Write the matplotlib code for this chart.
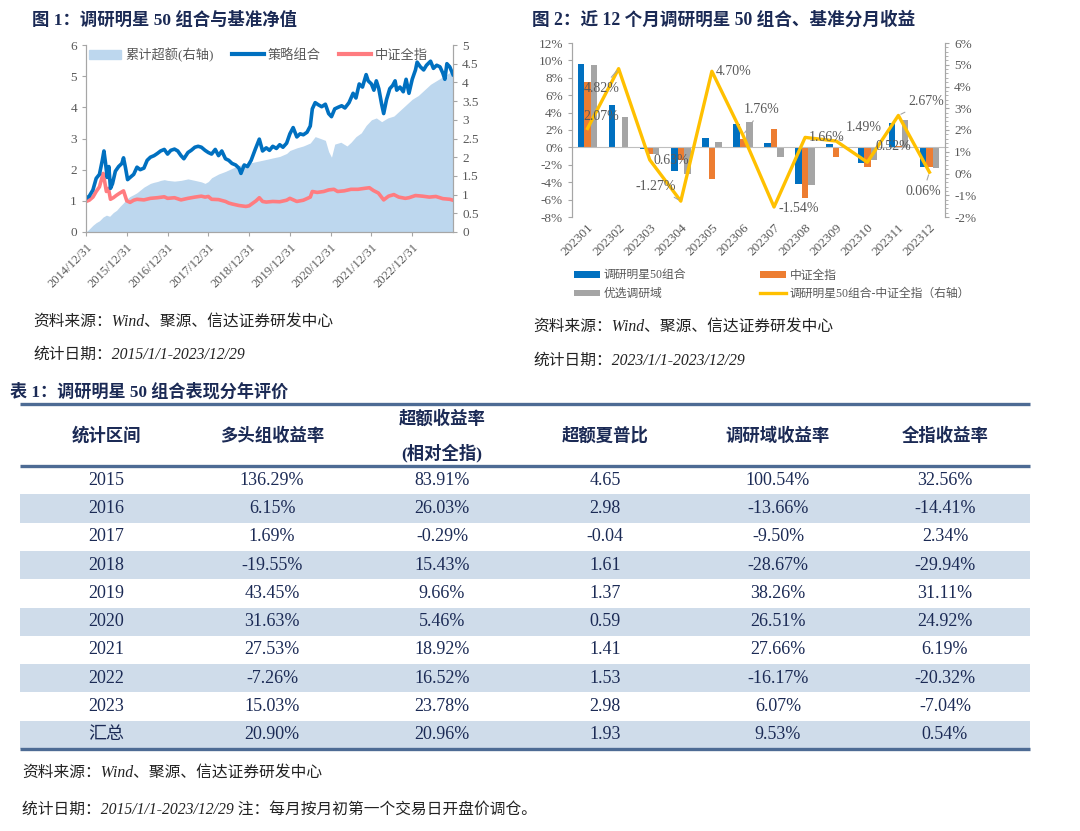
import matplotlib
matplotlib.use('Agg')
import matplotlib.pyplot as plt
from matplotlib.patches import Patch, Rectangle
from matplotlib.lines import Line2D
from matplotlib.ticker import AutoMinorLocator, PercentFormatter, MultipleLocator

plt.rcParams['font.family'] = ['Liberation Serif', 'Noto Sans CJK SC', 'DejaVu Sans']
plt.rcParams['axes.unicode_minus'] = False

# ---------------- data: figure 1 (net value, decimal years) ----------------
strat_t = [2015.00, 2015.08, 2015.17, 2015.25, 2015.33, 2015.40, 2015.44, 2015.48, 2015.52, 2015.56,
           2015.60, 2015.65, 2015.72, 2015.80, 2015.88, 2015.92, 2015.97, 2016.02, 2016.08, 2016.17,
           2016.25, 2016.33, 2016.42, 2016.50, 2016.58, 2016.67, 2016.75, 2016.83, 2016.92, 2017.00,
           2017.08, 2017.17, 2017.25, 2017.33, 2017.40, 2017.50, 2017.58, 2017.67, 2017.75, 2017.83,
           2017.92, 2018.00, 2018.08, 2018.17, 2018.25, 2018.33, 2018.42, 2018.50, 2018.58, 2018.67,
           2018.75, 2018.80, 2018.88, 2018.96, 2019.05, 2019.15, 2019.25, 2019.33, 2019.42, 2019.50,
           2019.58, 2019.67, 2019.75, 2019.83, 2019.92, 2020.00, 2020.08, 2020.17, 2020.25, 2020.33,
           2020.42, 2020.50, 2020.55, 2020.62, 2020.70, 2020.78, 2020.87, 2020.95, 2021.02, 2021.10,
           2021.18, 2021.27, 2021.35, 2021.45, 2021.55, 2021.62, 2021.70, 2021.78, 2021.87, 2021.92,
           2022.00, 2022.06, 2022.12, 2022.18, 2022.25, 2022.30, 2022.37, 2022.45, 2022.52, 2022.58,
           2022.62, 2022.70, 2022.78, 2022.85, 2022.92, 2023.00, 2023.08, 2023.12, 2023.20, 2023.28,
           2023.35, 2023.45, 2023.52, 2023.60, 2023.68, 2023.75, 2023.80, 2023.85, 2023.92, 2024.00]
strat_v = [1.08, 1.15, 1.35, 1.72, 1.85, 2.30, 2.60, 2.20, 1.75, 2.10,
           1.40, 1.55, 1.95, 2.10, 2.20, 2.38, 2.05, 1.68, 1.75, 1.85,
           2.08, 2.00, 2.05, 2.30, 2.40, 2.45, 2.52, 2.60, 2.65, 2.50,
           2.62, 2.66, 2.60, 2.45, 2.35, 2.55, 2.62, 2.72, 2.75, 2.72,
           2.62, 2.55, 2.50, 2.65, 2.45, 2.60, 2.35, 2.30, 2.20, 2.15,
           2.05, 1.88, 2.15, 2.10, 2.30, 2.65, 2.98, 2.60, 2.70, 2.62,
           2.75, 2.68, 2.80, 2.72, 2.85, 3.15, 3.35, 3.05, 3.15, 3.12,
           3.20, 3.40, 3.95, 4.15, 4.08, 4.02, 4.10, 3.80, 3.70, 3.95,
           4.00, 4.05, 3.98, 4.15, 4.45, 4.30, 4.75, 4.65, 5.05, 4.85,
           4.75, 4.55, 4.85, 4.60, 4.10, 3.80, 4.25, 4.60, 4.70, 4.85,
           4.55, 4.65, 4.50, 4.90, 4.45, 4.90, 5.20, 5.45, 5.30, 5.20,
           5.35, 5.48, 5.25, 5.35, 5.30, 5.10, 4.90, 5.40, 5.30, 5.05]

csi_t = [2015.00, 2015.08, 2015.17, 2015.25, 2015.33, 2015.42, 2015.46, 2015.50, 2015.55, 2015.60,
         2015.67, 2015.75, 2015.83, 2015.92, 2016.00, 2016.08, 2016.17, 2016.25, 2016.42, 2016.58,
         2016.75, 2016.92, 2017.00, 2017.17, 2017.33, 2017.50, 2017.67, 2017.83, 2017.92, 2018.00,
         2018.08, 2018.25, 2018.42, 2018.50, 2018.58, 2018.75, 2018.92, 2019.00, 2019.17, 2019.25,
         2019.33, 2019.42, 2019.58, 2019.75, 2019.92, 2020.00, 2020.17, 2020.33, 2020.50, 2020.55,
         2020.67, 2020.83, 2020.95, 2021.08, 2021.17, 2021.33, 2021.50, 2021.67, 2021.83, 2021.95,
         2022.05, 2022.17, 2022.30, 2022.42, 2022.55, 2022.67, 2022.83, 2022.92, 2023.08, 2023.25,
         2023.42, 2023.58, 2023.75, 2023.92, 2024.00]
csi_v = [0.98, 1.02, 1.12, 1.30, 1.45, 1.88, 1.60, 1.30, 1.40, 1.05,
         1.10, 1.18, 1.25, 1.32, 1.00, 0.95, 1.02, 1.05, 1.03, 1.08,
         1.10, 1.13, 1.08, 1.10, 1.03, 1.08, 1.12, 1.15, 1.12, 1.14,
         1.05, 1.04, 0.98, 0.93, 0.90, 0.85, 0.82, 0.84, 1.00, 1.10,
         0.98, 0.96, 0.98, 0.97, 1.02, 1.08, 0.98, 1.02, 1.12, 1.30,
         1.27, 1.30, 1.35, 1.37, 1.30, 1.32, 1.37, 1.37, 1.40, 1.42,
         1.33, 1.25, 1.03, 1.15, 1.20, 1.12, 1.08, 1.10, 1.17, 1.15,
         1.12, 1.14, 1.07, 1.05, 1.02]

excess_t = [2015.00, 2015.08, 2015.17, 2015.25, 2015.33, 2015.42, 2015.50, 2015.58, 2015.67, 2015.75,
            2015.83, 2015.92, 2016.00, 2016.08, 2016.17, 2016.25, 2016.33, 2016.42, 2016.50, 2016.58,
            2016.67, 2016.75, 2016.83, 2016.92, 2017.00, 2017.17, 2017.33, 2017.50, 2017.67, 2017.83,
            2017.92, 2018.00, 2018.08, 2018.25, 2018.42, 2018.58, 2018.75, 2018.92, 2019.08, 2019.25,
            2019.42, 2019.58, 2019.75, 2019.92, 2020.00, 2020.17, 2020.33, 2020.50, 2020.62, 2020.75,
            2020.87, 2020.95, 2021.02, 2021.10, 2021.25, 2021.40, 2021.50, 2021.62, 2021.75, 2021.87,
            2022.00, 2022.12, 2022.25, 2022.40, 2022.55, 2022.70, 2022.85, 2023.00, 2023.15, 2023.30,
            2023.45, 2023.60, 2023.75, 2023.90, 2024.00]
excess_v = [0.00, 0.08, 0.18, 0.25, 0.30, 0.40, 0.45, 0.42, 0.52, 0.58,
            0.68, 0.78, 0.88, 0.95, 1.00, 1.05, 1.12, 1.20, 1.25, 1.30,
            1.33, 1.35, 1.38, 1.40, 1.38, 1.36, 1.38, 1.42, 1.38, 1.34,
            1.30, 1.35, 1.45, 1.55, 1.62, 1.70, 1.78, 1.82, 1.86, 1.90,
            1.94, 1.98, 2.02, 2.10, 2.18, 2.25, 2.30, 2.38, 2.55, 2.50,
            2.45, 2.15, 2.00, 2.35, 2.40, 2.30, 2.40, 2.55, 2.65, 2.85,
            3.00, 3.05, 2.95, 3.05, 3.10, 3.25, 3.40, 3.55, 3.65, 3.80,
            3.95, 4.05, 4.15, 4.25, 4.30]

year_ticks = [2015, 2016, 2017, 2018, 2019, 2020, 2021, 2022, 2023]
year_labels = ['2014/12/31', '2015/12/31', '2016/12/31', '2017/12/31', '2018/12/31',
               '2019/12/31', '2020/12/31', '2021/12/31', '2022/12/31']

# ---------------- data: figure 2 (monthly returns, %) ----------------
months = ['202301', '202302', '202303', '202304', '202305', '202306',
          '202307', '202308', '202309', '202310', '202311', '202312']
ret_strat = [9.60, 4.88, -0.14, -2.69, 1.03, 2.73, 0.52, -4.16, 0.36, -1.79, 2.85, -2.23]
ret_csi = [7.53, 0.06, -0.77, -1.42, -3.67, 0.97, 2.06, -5.82, -1.13, -2.31, 0.18, -2.29]
ret_pool = [9.50, 3.45, -0.77, -3.08, 0.62, 2.96, -1.08, -4.35, -0.05, -1.46, 3.12, -2.42]
ret_diff = [2.07, 4.82, 0.63, -1.27, 4.70, 1.76, -1.54, 1.66, 1.49, 0.52, 2.67, 0.06]

# ---------------- data: table 1 ----------------
tab_header = ['统计区间', '多头组收益率', '超额收益率\n\n(相对全指)', '超额夏普比', '调研域收益率', '全指收益率']
tab_rows = [
    ['2015', '136.29%', '83.91%', '4.65', '100.54%', '32.56%'],
    ['2016', '6.15%', '26.03%', '2.98', '-13.66%', '-14.41%'],
    ['2017', '1.69%', '-0.29%', '-0.04', '-9.50%', '2.34%'],
    ['2018', '-19.55%', '15.43%', '1.61', '-28.67%', '-29.94%'],
    ['2019', '43.45%', '9.66%', '1.37', '38.26%', '31.11%'],
    ['2020', '31.63%', '5.46%', '0.59', '26.51%', '24.92%'],
    ['2021', '27.53%', '18.92%', '1.41', '27.66%', '6.19%'],
    ['2022', '-7.26%', '16.52%', '1.53', '-16.17%', '-20.32%'],
    ['2023', '15.03%', '23.78%', '2.98', '6.07%', '-7.04%'],
    ['汇总', '20.90%', '20.96%', '1.93', '9.53%', '0.54%'],
]

NAVY = '#1b2a55'
GRAY_TXT = '#595959'
AX_GRAY = '#a6a6a6'
NOTE = '#222222'
W, H = 1080, 831

fig = plt.figure(figsize=(W / 100, H / 100), dpi=100)

# pixel-space background axes for titles, notes and the table
ax0 = fig.add_axes([0, 0, 1, 1])
ax0.set_xlim(0, W)
ax0.set_ylim(H, 0)
ax0.axis('off')

ax0.text(32, 20, '图 1：调研明星 50 组合与基准净值', fontsize=12.5, fontweight='bold', color=NAVY, va='center')
ax0.text(532, 20, '图 2：近 12 个月调研明星 50 组合、基准分月收益', fontsize=12.7, fontweight='bold', color=NAVY, va='center')
ax0.text(33, 322, '资料来源：Wind、聚源、信达证券研发中心', fontsize=11.3, style='italic', color=NOTE, va='center')
ax0.text(33, 355, '统计日期：2015/1/1-2023/12/29', fontsize=11.3, style='italic', color=NOTE, va='center')
ax0.text(533, 327, '资料来源：Wind、聚源、信达证券研发中心', fontsize=11.3, style='italic', color=NOTE, va='center')
ax0.text(533, 361, '统计日期：2023/1/1-2023/12/29', fontsize=11.3, style='italic', color=NOTE, va='center')
ax0.text(10, 392, '表 1：调研明星 50 组合表现分年评价', fontsize=12.3, fontweight='bold', color=NAVY, va='center')

# table
col_x = [106, 272, 442, 605, 778, 945]
tab_left, tab_right = 20, 1030
head_top, head_bot = 404, 466
row_h = 28.3
line_col = '#4d6b94'
for i, row in enumerate(tab_rows):
    y0 = head_bot + i * row_h
    if i % 2 == 1:
        ax0.add_patch(Rectangle((tab_left, y0), tab_right - tab_left, row_h, color='#cfdcea', lw=0))
    for cx, val in zip(col_x, row):
        ax0.text(cx, y0 + row_h / 2, val, ha='center', va='center', fontsize=13, color=NAVY)
for cx, h in zip(col_x, tab_header):
    ax0.text(cx, (head_top + head_bot) / 2 + 1, h, ha='center', va='center', fontsize=12.5,
             fontweight='bold', color=NAVY, linespacing=1.0)
tab_bot = head_bot + len(tab_rows) * row_h
for yy in (head_top, head_bot, tab_bot):
    ax0.plot([tab_left, tab_right], [yy, yy], color=line_col, lw=2.4, solid_capstyle='butt')

ax0.text(22, 773, '资料来源：Wind、聚源、信达证券研发中心', fontsize=11.3, style='italic', color=NOTE, va='center')
ax0.text(22, 810, '统计日期：2015/1/1-2023/12/29 注：每月按月初第一个交易日开盘价调仓。', fontsize=11.3,
         style='italic', color=NOTE, va='center')


def frac(x0, y0, x1, y1):
    return [x0 / W, 1 - y1 / H, (x1 - x0) / W, (y1 - y0) / H]


# ---------------- figure 1 ----------------
ax1 = fig.add_axes(frac(86, 45, 453, 232))
ax1r = ax1.twinx()
ax1r.fill_between(excess_t, excess_v, 0, color='#bdd7ee', lw=0)
ax1r.set_ylim(0, 5)
ax1r.set_yticks([0, 0.5, 1, 1.5, 2, 2.5, 3, 3.5, 4, 4.5, 5])
ax1r.set_yticklabels(['0', '0.5', '1', '1.5', '2', '2.5', '3', '3.5', '4', '4.5', '5'])
ax1.set_zorder(ax1r.get_zorder() + 1)
ax1.patch.set_visible(False)
ax1.plot(csi_t, csi_v, color='#ff7c80', lw=2.6)
ax1.plot(strat_t, strat_v, color='#0070c0', lw=2.6)
ax1.set_ylim(0, 6)
ax1.set_xlim(2015, 2024)
ax1.set_xticks(year_ticks)
ax1.set_xticklabels(year_labels, rotation=45, ha='right', rotation_mode='anchor')
for a in (ax1, ax1r):
    for s in a.spines.values():
        s.set_color(AX_GRAY)
    a.spines['top'].set_visible(False)
    a.tick_params(colors=AX_GRAY, labelcolor=GRAY_TXT, labelsize=9.5, length=3)
ax1.tick_params(axis='x', labelsize=9)
handles = [Patch(color='#bdd7ee'), Line2D([], [], color='#0070c0', lw=3), Line2D([], [], color='#ff7c80', lw=3)]
ax1.legend(handles, ['累计超额(右轴)', '策略组合', '中证全指'], loc='upper center', ncol=3, frameon=False,
           fontsize=9.5, labelcolor=GRAY_TXT, bbox_to_anchor=(0.47, 1.05), handlelength=2.4,
           columnspacing=1.4, handletextpad=0.3)

# ---------------- figure 2 ----------------
ax2 = fig.add_axes(frac(572, 43, 945, 217))
ax2r = ax2.twinx()
xs = list(range(len(months)))
bw = 0.21
b1 = ax2.bar([x - bw for x in xs], ret_strat, width=bw, color='#0070c0')
b2 = ax2.bar(xs, ret_csi, width=bw, color='#ed7d31')
b3 = ax2.bar([x + bw for x in xs], ret_pool, width=bw, color='#a5a5a5')
ax2.axhline(0, color='#bfbfbf', lw=0.8)
ax2.set_ylim(-8, 12)
ax2.yaxis.set_major_locator(MultipleLocator(2))
ax2.yaxis.set_major_formatter(PercentFormatter(decimals=0))
ax2.set_xlim(-0.5, 11.5)
ax2.set_xticks(xs)
ax2.set_xticklabels(months, rotation=45, ha='right', rotation_mode='anchor')
ln, = ax2r.plot(xs, ret_diff, color='#ffc000', lw=2.4)
ax2r.set_ylim(-2, 6)
ax2r.yaxis.set_major_locator(MultipleLocator(1))
ax2r.yaxis.set_minor_locator(AutoMinorLocator(5))
ax2r.yaxis.set_major_formatter(PercentFormatter(decimals=0))
for a in (ax2, ax2r):
    for s in a.spines.values():
        s.set_color(AX_GRAY)
    a.spines['top'].set_visible(False)
    a.spines['bottom'].set_visible(False)
    a.tick_params(colors=AX_GRAY, labelcolor=GRAY_TXT, labelsize=9.5, length=3)
ax2r.tick_params(which='minor', colors=AX_GRAY, length=2)
ax2.tick_params(axis='x', length=0, labelsize=9.5)

# data labels for the excess line (text position, leader line or not)
label_pos = [(0.45, 2.6, False), (0.45, 3.9, True), (2.7, 0.6, False), (2.2, -0.6, True),
             (4.7, 4.7, False), (5.6, 2.95, True), (6.8, -1.6, False), (7.7, 1.65, False),
             (8.9, 2.1, True), (9.85, 1.25, False), (10.9, 3.3, True), (10.8, -0.85, True)]
for x, v, (tx, ty, lead) in zip(xs, ret_diff, label_pos):
    ap = dict(arrowstyle='-', color=AX_GRAY, lw=0.8, shrinkA=2, shrinkB=2) if lead else None
    ax2r.annotate(f'{v:.2f}%', xy=(x, v), xytext=(tx, ty), ha='center', va='center',
                  fontsize=10, color=GRAY_TXT, arrowprops=ap)

# legend filled column by column: left column blue/gray, right column orange/yellow
fig.legend([b1, b3, b2, ln],
           ['调研明星50组合', '优选调研域', '中证全指', '调研明星50组合-中证全指（右轴）'],
           loc='upper left', ncol=2, bbox_to_anchor=(563 / W, 1 - 259 / H), frameon=False,
           fontsize=8.5, labelcolor=GRAY_TXT, handlelength=2.2, handleheight=0.5,
           columnspacing=6.3, handletextpad=0.3, labelspacing=0.55)

fig.savefig('out.png', dpi=100)
